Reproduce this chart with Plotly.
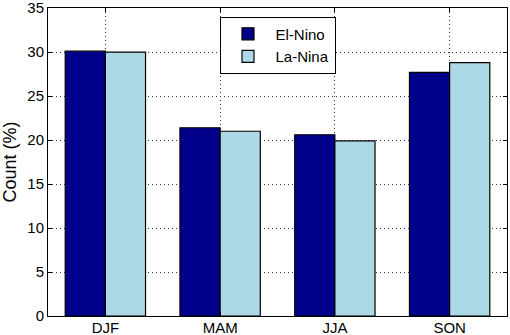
import plotly.graph_objects as go

seasons = ["DJF", "MAM", "JJA", "SON"]
el_nino = [30.1, 21.4, 20.6, 27.7]
la_nina = [30.0, 21.0, 19.9, 28.8]
y_ticks = [0, 5, 10, 15, 20, 25, 30, 35]

fig = go.Figure()
fig.add_trace(go.Bar(x=seasons, y=el_nino, name="El-Nino",
                     marker=dict(color="#00008B", line=dict(color="black", width=1.2))))
fig.add_trace(go.Bar(x=seasons, y=la_nina, name="La-Nina",
                     marker=dict(color="#ADD8E6", line=dict(color="black", width=1.2))))

fig.update_layout(
    width=510, height=335,
    margin=dict(l=48, r=3, t=8, b=19, autoexpand=False),
    paper_bgcolor="white", plot_bgcolor="white",
    barmode="group", bargap=0.3, bargroupgap=0,
    font=dict(family="Arial, Liberation Sans, sans-serif", size=14, color="black"),
    legend=dict(x=0.5, y=0.972, xanchor="center", yanchor="top",
                bordercolor="black", borderwidth=1, bgcolor="white",
                font=dict(size=15), itemwidth=45, tracegroupgap=0),
    showlegend=True,
)
fig.update_xaxes(range=[-0.5, 3.5], showline=True, linecolor="black", linewidth=1,
                 mirror="ticks", ticks="inside", ticklen=4, tickcolor="black",
                 showgrid=True, gridcolor="#333333", griddash="1px,3px", gridwidth=1,
                 tickfont=dict(size=15), automargin=False, ticklabeloverflow="allow",
                 ticklabelstandoff=-2)
fig.update_yaxes(range=[0, 35.01], tickvals=y_ticks, showline=True, linecolor="black",
                 linewidth=1, mirror="ticks", ticks="inside", ticklen=4, tickcolor="black",
                 showgrid=True, gridcolor="#333333", griddash="1px,3px", gridwidth=1,
                 zeroline=False, tickfont=dict(size=15), automargin=False,
                 ticklabeloverflow="allow",
                 title=dict(text="Count (%)", font=dict(size=18), standoff=10))

fig.write_html("out.html", config={"displayModeBar": False},
               post_script="document.body.style.margin='0';document.body.style.overflow='hidden';")
